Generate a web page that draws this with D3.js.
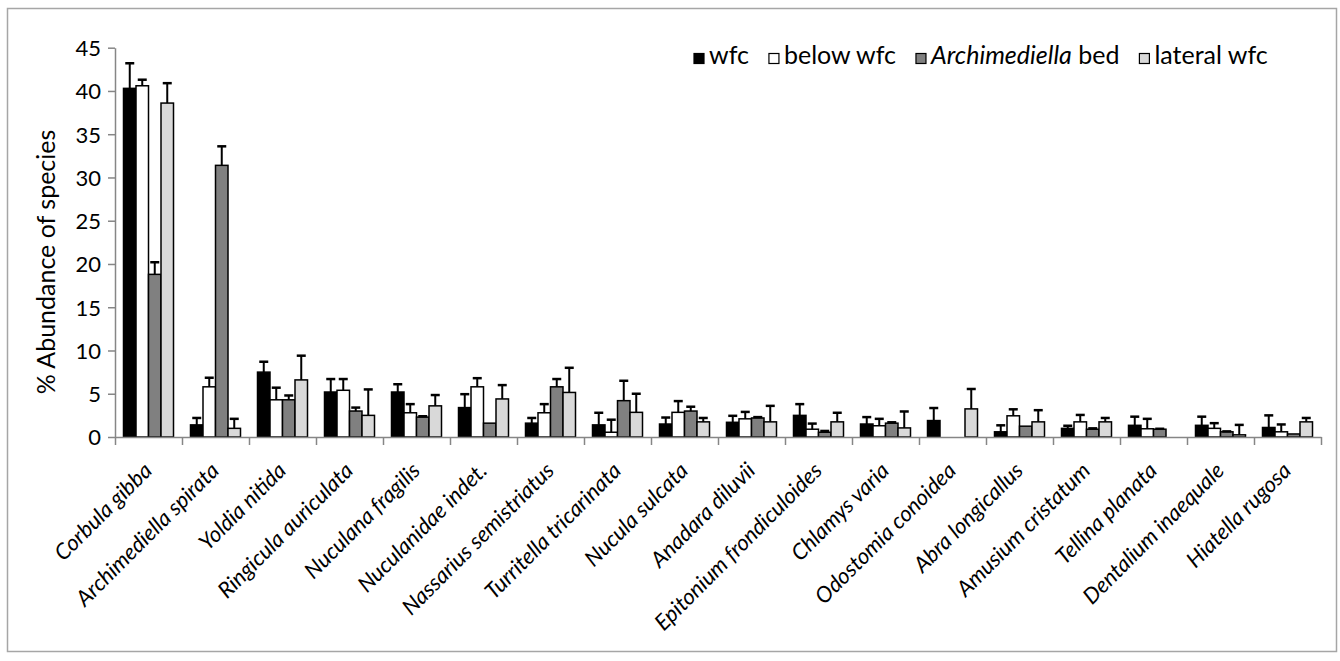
<!DOCTYPE html>
<html>
<head>
<meta charset="utf-8">
<script src="https://cdn.jsdelivr.net/npm/d3@7"></script>
<style>
  body { margin: 0; background: #fff; }
  text { font-family: Lato, "Open Sans", sans-serif; fill: #000; }
  .axis path, .axis line { stroke: #868686; stroke-width: 1.5; }
</style>
</head>
<body>
<div id="chart" style="width:1340px;height:661px;"></div>
<script>
// species along the x axis
const categories = ["Corbula gibba", "Archimediella spirata", "Yoldia nitida", "Ringicula auriculata",
    "Nuculana fragilis", "Nuculanidae indet.", "Nassarius semistriatus", "Turritella tricarinata",
    "Nucula sulcata", "Anadara diluvii", "Epitonium frondiculoides", "Chlamys varia",
    "Odostomia conoidea", "Abra longicallus", "Amusium cristatum", "Tellina planata",
    "Dentalium inaequale", "Hiatella rugosa"];

// % abundance per series, and the upper error bar length
const wfc = [40.3, 1.4, 7.5, 5.2, 5.2, 3.4, 1.6, 1.4, 1.5, 1.7, 2.5, 1.5, 1.9, 0.6, 1.0, 1.35, 1.35, 1.1];
const wfcErr = [2.9, 0.8, 1.2, 1.5, 0.9, 1.55, 0.6, 1.4, 0.75, 0.75, 1.3, 0.8, 1.45, 0.75, 0.3, 1.0, 1.0, 1.4];
const belowWfc = [40.6, 5.8, 4.3, 5.4, 2.8, 5.8, 2.8, 0.55, 2.85, 2.1, 0.9, 1.3, 0, 2.45, 1.75, 0.95, 1.0, 0.6];
const belowWfcErr = [0.7, 1.05, 1.4, 1.3, 1.0, 1.0, 1.0, 1.45, 1.3, 0.8, 0.65, 0.8, 0, 0.75, 0.8, 1.15, 0.6, 0.85];
const archBed = [18.8, 31.4, 4.3, 3.0, 2.3, 1.6, 5.8, 4.2, 3.0, 2.2, 0.55, 1.6, 0, 1.25, 0.9, 0.9, 0.6, 0.35];
const archBedErr = [1.4, 2.2, 0.5, 0.4, 0.1, 0, 0.9, 2.3, 0.5, 0.1, 0.15, 0.1, 0, 0, 0.1, 0.05, 0.05, 0];
const lateralWfc = [38.6, 1.0, 6.6, 2.5, 3.6, 4.4, 5.15, 2.85, 1.75, 1.75, 1.75, 1.05, 3.25, 1.75, 1.75, 0, 0.25, 1.75];
const lateralWfcErr = [2.3, 1.1, 2.8, 3.0, 1.25, 1.6, 2.85, 2.15, 0.45, 1.85, 1.05, 1.9, 2.3, 1.35, 0.45, 0, 1.15, 0.45];

const yTicks = [0, 5, 10, 15, 20, 25, 30, 35, 40, 45];

const series = [
    { key: "wfc", values: wfc, err: wfcErr, fill: "#000000" },
    { key: "below wfc", values: belowWfc, err: belowWfcErr, fill: "#ffffff" },
    { key: "Archimediella bed", values: archBed, err: archBedErr, fill: "#808080" },
    { key: "lateral wfc", values: lateralWfc, err: lateralWfcErr, fill: "#d9d9d9" }
];

const width = 1340, height = 661;
const margin = { top: 47.7, left: 115, right: 19, bottom: 224 };

const svg = d3.select("#chart").append("svg")
    .attr("width", width)
    .attr("height", height);

// outer chart frame
svg.append("rect")
    .attr("x", 7.5).attr("y", 8.5)
    .attr("width", 1329).attr("height", 643)
    .attr("fill", "none")
    .attr("stroke", "#a6a6a6")
    .attr("stroke-width", 1.5);

const xScale = d3.scaleBand()
    .domain(categories)
    .range([margin.left, width - margin.right])
    .padding(0);

const xSub = d3.scaleBand()
    .domain(series.map(s => s.key))
    .range([0, xScale.bandwidth()])
    .paddingInner(0)
    .paddingOuter(0.68);

const yScale = d3.scaleLinear()
    .domain([0, 45])
    .range([height - margin.bottom, margin.top]);

// bars
const groups = svg.selectAll("g.series")
    .data(series)
    .enter()
    .append("g")
    .attr("class", "series");

groups.selectAll("rect")
    .data(s => s.values.map((v, i) => ({ v: v, cat: categories[i], s: s })))
    .enter()
    .filter(d => d.v > 0)
    .append("rect")
    .attr("x", d => xScale(d.cat) + xSub(d.s.key))
    .attr("y", d => yScale(d.v))
    .attr("width", xSub.bandwidth())
    .attr("height", d => yScale(0) - yScale(d.v))
    .attr("fill", d => d.s.fill)
    .attr("stroke", "#000")
    .attr("stroke-width", 1.5);

// error bars (upper only)
const errData = [];
series.forEach(s => {
    s.values.forEach((v, i) => {
        if (s.err[i] > 0) errData.push({ s: s, cat: categories[i], v: v, e: s.err[i] });
    });
});
const eb = svg.selectAll("g.err")
    .data(errData)
    .enter()
    .append("g")
    .attr("class", "err")
    .attr("transform", d => `translate(${xScale(d.cat) + xSub(d.s.key) + xSub.bandwidth() / 2},0)`);
eb.append("line")
    .attr("x1", 0).attr("x2", 0)
    .attr("y1", d => yScale(d.v))
    .attr("y2", d => yScale(d.v + d.e))
    .attr("stroke", "#000").attr("stroke-width", 2);
eb.append("line")
    .attr("x1", -4.5).attr("x2", 4.5)
    .attr("y1", d => yScale(d.v + d.e))
    .attr("y2", d => yScale(d.v + d.e))
    .attr("stroke", "#000").attr("stroke-width", 2.5);

// y axis
svg.append("g")
    .attr("class", "axis")
    .attr("transform", `translate(${margin.left},0)`)
    .call(d3.axisLeft(yScale).tickValues(yTicks).tickSize(7).tickPadding(7).tickSizeOuter(0))
    .selectAll("text").style("font-size", "22px").attr("dy", "0.36em");

// x axis with tick marks at category boundaries
const xEdge = d3.scaleLinear()
    .domain([0, categories.length])
    .range([margin.left, width - margin.right]);
svg.append("g")
    .attr("class", "axis")
    .attr("transform", `translate(0,${height - margin.bottom})`)
    .call(d3.axisBottom(xEdge).ticks(categories.length).tickSize(8).tickSizeOuter(0).tickFormat(""));

// rotated italic category labels
svg.selectAll("text.xlabel")
    .data(categories)
    .enter()
    .append("text")
    .attr("class", "xlabel")
    .attr("text-anchor", "end")
    .attr("transform", d => `translate(${xScale(d) + xScale.bandwidth() / 2 + 5},${height - margin.bottom + 35}) rotate(-45)`)
    .style("font-size", "22px")
    .style("font-style", "italic")
    .text(d => d);

// y axis title
svg.append("text")
    .attr("transform", "rotate(-90)")
    .attr("x", -262)
    .attr("y", 55)
    .attr("text-anchor", "middle")
    .style("font-size", "25px")
    .text("% Abundance of species");

// legend
const legend = svg.append("g").attr("transform", "translate(694,0)");
let lx = 0;
series.forEach(s => {
    legend.append("rect")
        .attr("x", lx).attr("y", 53.5)
        .attr("width", 10).attr("height", 10)
        .attr("fill", s.fill)
        .attr("stroke", "#000").attr("stroke-width", 1.2);
    const t = legend.append("text")
        .attr("x", lx + 15).attr("y", 64)
        .style("font-size", "25px");
    if (s.key === "Archimediella bed") {
        t.append("tspan").style("font-style", "italic").text("Archimediella");
        t.append("tspan").text(" bed");
    } else {
        t.text(s.key);
    }
    lx += 15 + t.node().getComputedTextLength() + 20;
});
</script>
</body>
</html>
